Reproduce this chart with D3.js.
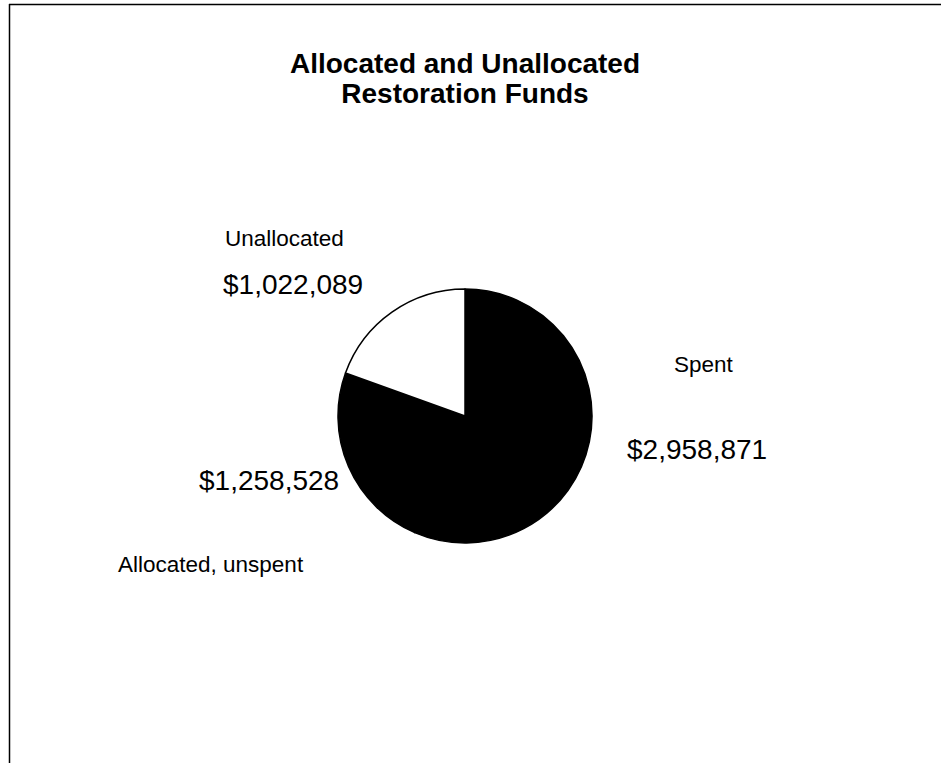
<!DOCTYPE html>
<html>
<head>
<meta charset="utf-8">
<script src="https://cdn.jsdelivr.net/npm/d3@7/dist/d3.min.js"></script>
<style>
  html, body { margin: 0; padding: 0; background: #fff; }
  svg { display: block; }
  text { font-family: "Liberation Sans", Arial, sans-serif; fill: #000; }
</style>
</head>
<body>
<script>
// Data
const categories = ["Spent", "Allocated, unspent", "Unallocated"];
const values = [2958871, 1258528, 1022089];
const colors = ["#000000", "#000000", "#ffffff"];
const titleLines = ["Allocated and Unallocated", "Restoration Funds"];

// Layout (positions of labels, not data)
const labelLayout = {
  "Spent":              { name: [674, 372], value: [627, 459] },
  "Allocated, unspent": { name: [118, 572], value: [199, 490] },
  "Unallocated":        { name: [225, 246], value: [223, 294] }
};

const W = 945, H = 763;
const svg = d3.select("body").append("svg").attr("width", W).attr("height", H);

// frame
svg.append("line").attr("x1", 9).attr("y1", 4.5).attr("x2", 941).attr("y2", 4.5)
  .attr("stroke", "#000").attr("stroke-width", 1.5);
svg.append("line").attr("x1", 9.5).attr("y1", 4).attr("x2", 9.5).attr("y2", H)
  .attr("stroke", "#000").attr("stroke-width", 1.5);

// title
svg.append("text").attr("x", 465).attr("y", 73).attr("text-anchor", "middle")
  .attr("font-size", 28).attr("font-weight", "bold").text(titleLines[0]);
svg.append("text").attr("x", 465).attr("y", 103).attr("text-anchor", "middle")
  .attr("font-size", 28).attr("font-weight", "bold").text(titleLines[1]);

// pie
const cx = 465, cy = 416, r = 127;
const pie = d3.pie().sort(null).value(d => d.value);
const data = categories.map((c, i) => ({ name: c, value: values[i], color: colors[i] }));
const arcs = pie(data);
const arc = d3.arc().innerRadius(0).outerRadius(r);
const g = svg.append("g").attr("transform", `translate(${cx},${cy})`);
g.selectAll("path").data(arcs).join("path")
  .attr("d", arc)
  .attr("fill", d => d.data.color)
  .attr("stroke", "#000")
  .attr("stroke-width", 1.5)
  .attr("stroke-linejoin", "round");

// labels
const fmt = d3.format("$,");
data.forEach(d => {
  const L = labelLayout[d.name];
  svg.append("text").attr("x", L.name[0]).attr("y", L.name[1])
    .attr("font-size", 22.5).text(d.name);
  svg.append("text").attr("x", L.value[0]).attr("y", L.value[1])
    .attr("font-size", 28).text(fmt(d.value));
});
</script>
</body>
</html>
